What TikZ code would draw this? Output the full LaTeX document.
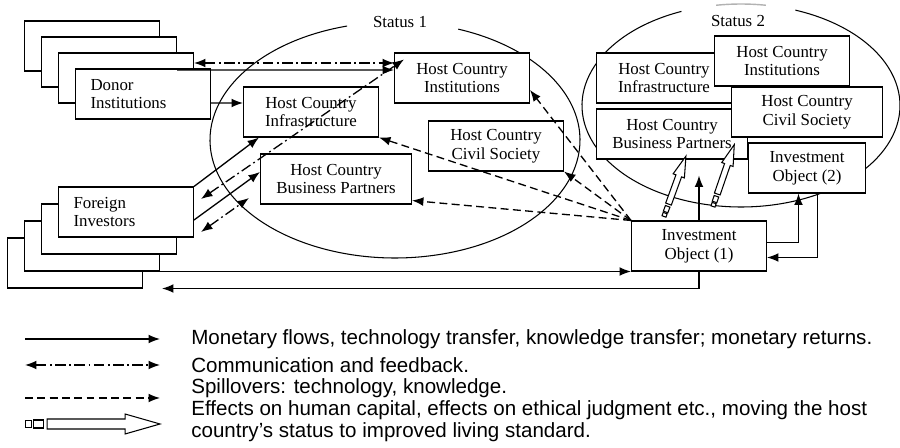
\documentclass[tikz,border=0pt]{standalone}
\usepackage{fontspec}
\setmainfont{Liberation Serif}
\newfontfamily\legendfont{Liberation Sans}
\usetikzlibrary{arrows.meta,calc}

\tikzset{
    box/.style={draw, fill=white, line width=0.6pt, minimum width=2.7cm, minimum height=1cm,
        align=center, inner sep=1pt, font=\fontsize{9.6}{10.6}\selectfont},
    widebox/.style={box, minimum width=3.02cm},
    stackbox/.style={box, align=left, inner xsep=0.3cm, text width=2.1cm},
    flow/.style={line width=0.75pt, -{Latex[length=6.5pt,width=5pt]}},
    talk/.style={line width=0.75pt, dash pattern=on 6pt off 2pt on 1pt off 2pt,
        {Latex[length=6.5pt,width=5pt]}-{Latex[length=6.5pt,width=5pt]}},
    spill/.style={line width=0.75pt, dash pattern=on 4.5pt off 2.5pt, -{Latex[length=6.5pt,width=5pt]}},
    status/.style={inner sep=1pt, font=\fontsize{9.6}{10.6}\selectfont},
    legend/.style={anchor=west, inner sep=0pt, align=left, font=\legendfont\fontsize{11.7}{12.6}\selectfont},
}

% hollow arrow with two small squares at its tail
\newcommand{\fatarrow}[4][]{%
    \begin{scope}[shift={#2}, rotate=#3, #1]
        \draw[fill=white, line width=0.6pt] (0,-3.5) rectangle (6,3.5);
        \draw[fill=white, line width=0.6pt] (8,-4) rectangle (18,4);
        \draw[fill=white, line width=0.6pt] (22,-5) -- (#4-35,-5) -- (#4-35,-10) -- (#4,0)
            -- (#4-35,10) -- (#4-35,5) -- (22,5) -- cycle;
    \end{scope}}

\begin{document}
\begin{tikzpicture}[x=0.02cm, y=0.02cm]
    \useasboundingbox (0,0) rectangle (900,-448);

    % the two states of the host country
    \draw[line width=0.6pt] (395,-140) ++(105:3.7cm and 2.36cm)
        arc[start angle=105, end angle=430, x radius=3.7cm, y radius=2.36cm];
    \draw[line width=0.6pt] (741,-105.5) ++(112:3.18cm and 2.03cm)
        arc[start angle=112, end angle=430, x radius=3.18cm, y radius=2.03cm];
    \draw[gray!60, line width=0.8pt] (741,-105.5) ++(99:3.18cm and 2.03cm)
        arc[start angle=99, end angle=81, x radius=3.18cm, y radius=2.03cm];
    \node[status] (st1) at (400,-22) {Status 1};
    \node[status] (st2) at (738,-21) {Status 2};

    % donors and investors
    \node[stackbox] (don1) at (92,-46) {};
    \node[stackbox] (don2) at (109,-62) {};
    \node[stackbox] (don3) at (126,-78) {};
    \node[stackbox] (don4) at (143,-94) {Donor\\Institutions};

    \node[stackbox] (inv4) at (75,-263) {};
    \node[stackbox] (inv3) at (92,-246) {};
    \node[stackbox] (inv2) at (109,-229) {};
    \node[stackbox] (inv1) at (126,-212) {Foreign\\Investors};

    % status 1
    \node[box]     (inst)    at (462,-78)  {Host Country\\Institutions};
    \node[box]     (infra)   at (311,-112) {Host Country\\Infrastructure};
    \node[box]     (civil)   at (496,-146) {Host Country\\Civil Society};
    \node[widebox] (partner) at (336,-179) {Host Country\\Business Partners};

    % status 2
    \node[box]     (infraB)   at (664,-78)  {Host Country\\Infrastructure};
    \node[widebox] (partnerB) at (672,-134) {Host Country\\Business Partners};
    \node[box]     (instB)    at (782,-61)  {Host Country\\Institutions};
    \node[widebox] (civilB)   at (807,-112) {Host Country\\Civil Society};
    \node[box, minimum width=2.34cm] (objB) at (807,-168) {Investment\\Object (2)};

    \node[box] (objA) at (699,-246) {Investment\\Object (1)};

    % flows and communication
    \draw[flow] ([yshift=-0.18cm]don4.east) -- ([yshift=0.18cm]infra.west);
    \draw[flow] ([yshift=-0.16cm]don2.east) -- ([yshift=0.16cm]inst.west);
    \draw[talk] ([yshift=0.3cm]don3.east) -- ([yshift=0.3cm]inst.west);
    \draw[talk] ([shift={(0.14cm,0.26cm)}]inv1.east) -- ([shift={(0.2cm,-0.14cm)}]inst.north west);
    \draw[flow] (inv1.north east) -- ([xshift=0.32cm]infra.south west);
    \draw[flow] ([yshift=-0.16cm]inv1.east) -- ([yshift=0.14cm]partner.west);
    \draw[talk] ([shift={(0.14cm,-0.4cm)}]inv1.east) -- ([shift={(-0.22cm,-0.38cm)}]partner.west);

    % spillovers
    \draw[spill] (objA.north west) -- ([yshift=-0.24cm]inst.east);
    \draw[spill] (objA.north west) -- (infra.south east);
    \draw[spill] (objA.north west) -- (civil.south east);
    \draw[spill] (objA.north west) -- ([yshift=0.08cm]partner.south east);

    % investment and returns
    \draw[flow] (inv3.south east) -- (inv3.south east -| objA.west);
    \draw[flow] (objA.south) |- ([xshift=0.38cm]inv4.south east);
    \draw[flow] ([yshift=0.07cm]objA.east) -| ([xshift=-0.17cm]objB.south);
    \draw[flow] ([xshift=0.21cm]objB.south) |- ([yshift=-0.23cm]objA.east);
    \coordinate (rise) at ([yshift=-0.32cm]partnerB.south -| objA.north);
    \draw[flow] (objA.north) -- (rise);

    \coordinate (lift1) at ([shift={(0.66cm,0.08cm)}]objA.north west);
    \coordinate (lift2) at ([shift={(1.64cm,0.28cm)}]objA.north west);
    \fatarrow[scale=0.6]{(lift1)}{70}{107}
    \fatarrow[scale=0.6]{(lift2)}{71}{109}

    % legend
    \node[legend] (lg1) at (191,-339) {Monetary flows, technology transfer, knowledge transfer; monetary returns.};
    \node[legend] (lg2) at (191,-365) {Communication and feedback.};
    \node[legend] (lg3) at (191,-388) {Spillovers: technology, knowledge.};
    \node[legend] (lg4) at (191,-421) {Effects on human capital, effects on ethical judgment etc., moving the host\\country’s status to improved living standard.};

    \draw[flow] ([xshift=-3.32cm]lg1.west) -- ([xshift=-0.62cm]lg1.west);
    \draw[talk] ([xshift=-3.32cm]lg2.west) -- ([xshift=-0.62cm]lg2.west);
    \draw[spill] ([shift={(-3.32cm,-0.2cm)}]lg3.west) -- ([shift={(-0.62cm,-0.2cm)}]lg3.west);
    \coordinate (lg4tail) at ([shift={(-3.32cm,-0.06cm)}]lg4.west);
    \fatarrow{(lg4tail)}{0}{135}
\end{tikzpicture}
\end{document}
